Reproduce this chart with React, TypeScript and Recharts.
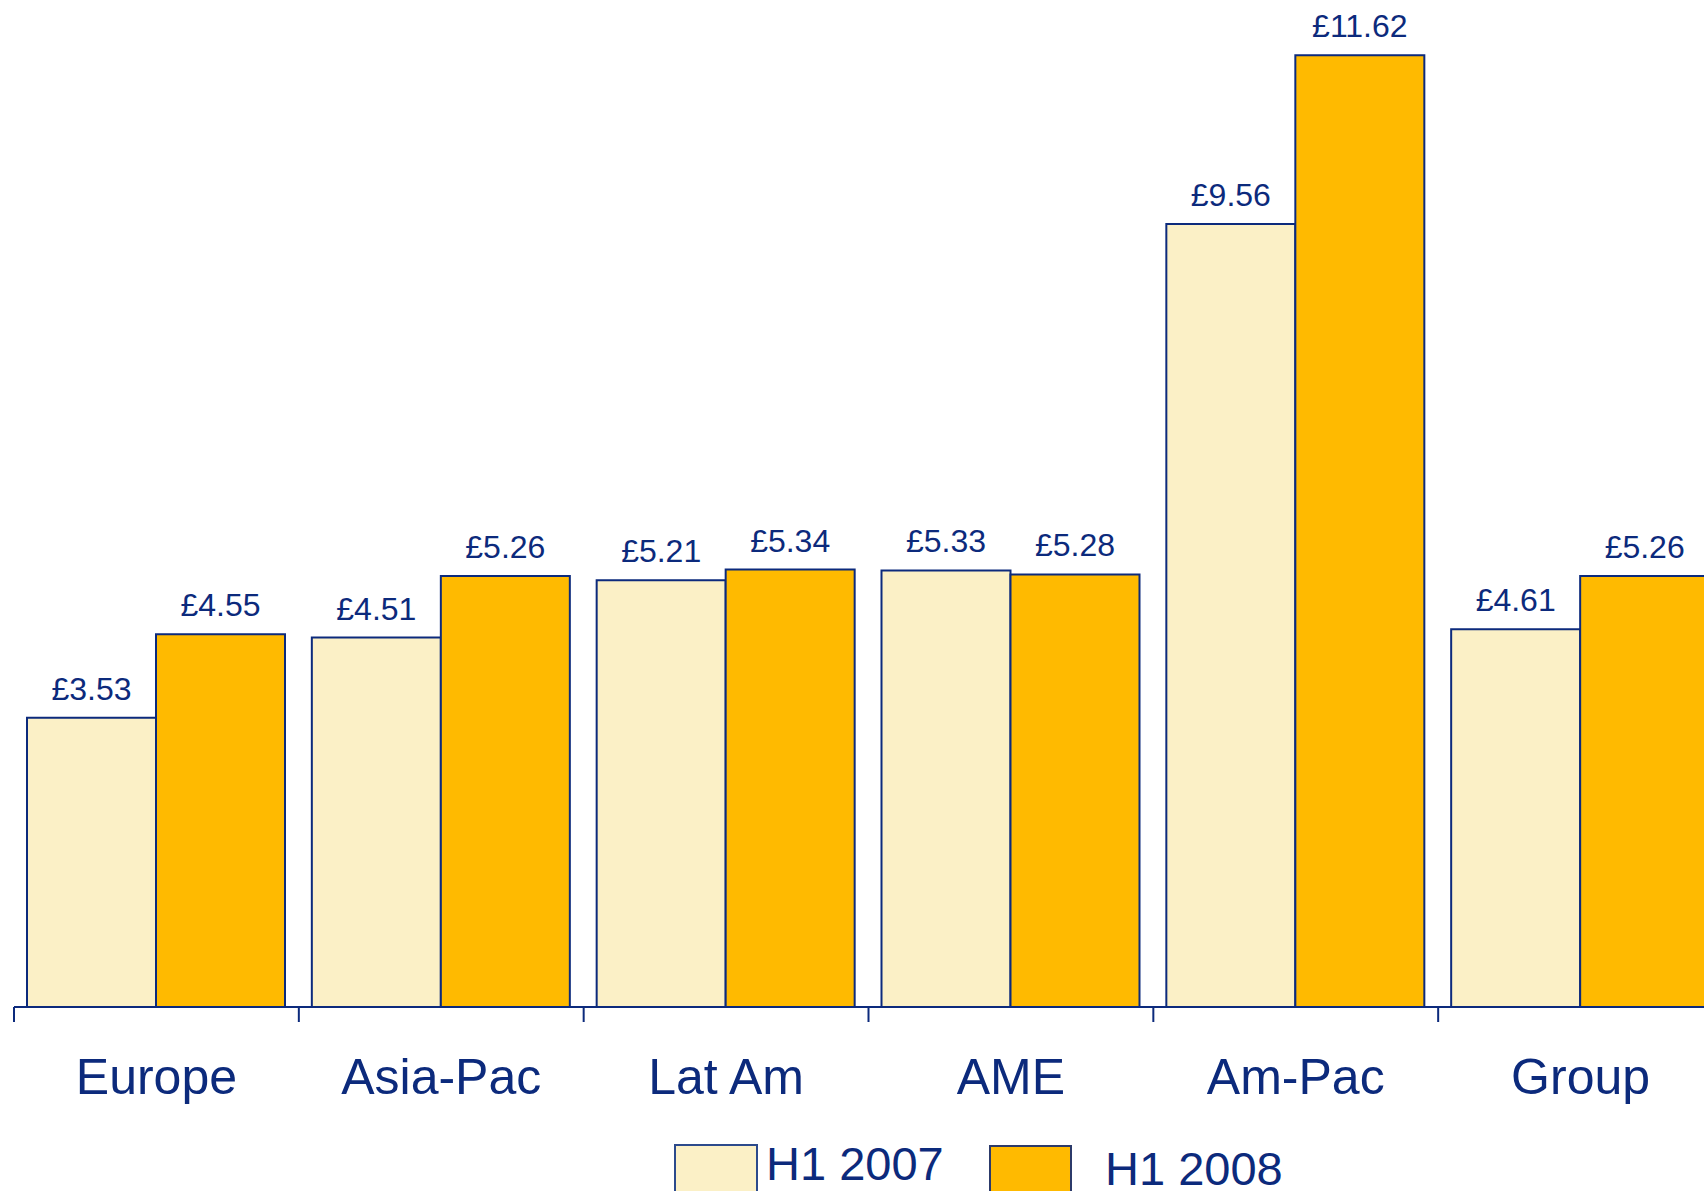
import React from 'react';
import { BarChart, Bar, XAxis, YAxis, LabelList } from 'recharts';

const regions = ['Europe', 'Asia-Pac', 'Lat Am', 'AME', 'Am-Pac', 'Group'];
const h1_2007 = [3.53, 4.51, 5.21, 5.33, 9.56, 4.61];
const h1_2008 = [4.55, 5.26, 5.34, 5.28, 11.62, 5.26];
const seriesNames = ['H1 2007', 'H1 2008'];

const NAVY = '#0c2a7c';
const CREAM = '#fbf0c6';
const GOLD = '#ffba00';
const FONT = '"Liberation Sans", Arial, Helvetica, sans-serif';

const CHART_W = 1723;
const CHART_H = 1191;
const M_TOP = 24;
const M_LEFT = 14;
const AXIS_H = 184;
const PLOT_W = CHART_W - M_LEFT;
const AXIS_Y = CHART_H - AXIS_H;

const data = regions.map((name, i) => ({ name, a: h1_2007[i], b: h1_2008[i] }));

const fmt = (v: any) => `£${Number(v).toFixed(2)}`;

const CategoryTick = (props: any) => {
  const { x, payload } = props;
  const half = PLOT_W / regions.length / 2;
  return (
    <g>
      <line x1={x - half} x2={x - half} y1={AXIS_Y} y2={AXIS_Y + 15} stroke={NAVY} strokeWidth={2} />
      <text x={x} y={AXIS_Y + 87} textAnchor="middle" fontSize={50} fill={NAVY} fontFamily={FONT}>
        {payload.value}
      </text>
    </g>
  );
};

const LegendBox = () => (
  <svg width={1704} height={1191} style={{ position: 'absolute', left: 0, top: 0, pointerEvents: 'none' }}>
    <rect x={675} y={1145} width={82} height={60} fill={CREAM} stroke="#2c4a8c" strokeWidth={2} />
    <text x={766} y={1180} fontSize={47} fill={NAVY} fontFamily={FONT}>{seriesNames[0]}</text>
    <rect x={990} y={1146} width={81} height={60} fill={GOLD} stroke="#2c3a6a" strokeWidth={2} />
    <text x={1105} y={1185} fontSize={47} fill={NAVY} fontFamily={FONT}>{seriesNames[1]}</text>
  </svg>
);

export default function App() {
  return (
    <div style={{ position: 'absolute', left: 0, top: 0, width: 1704, height: 1191, overflow: 'hidden', background: '#fff' }}>
      <BarChart
        width={CHART_W}
        height={CHART_H}
        data={data}
        margin={{ top: M_TOP, right: 0, left: M_LEFT, bottom: 0 }}
        barCategoryGap={13}
        barGap={0}
      >
        <XAxis
          dataKey="name"
          height={AXIS_H}
          axisLine={{ stroke: NAVY, strokeWidth: 2 }}
          tickLine={false}
          tick={<CategoryTick />}
          interval={0}
        />
        <YAxis hide domain={[0, 12]} />
        <Bar dataKey="a" name={seriesNames[0]} fill={CREAM} stroke={NAVY} strokeWidth={2} isAnimationActive={false}>
          <LabelList dataKey="a" position="top" offset={18} formatter={fmt} fill={NAVY} fontSize={32} fontFamily={FONT} />
        </Bar>
        <Bar dataKey="b" name={seriesNames[1]} fill={GOLD} stroke={NAVY} strokeWidth={2} isAnimationActive={false}>
          <LabelList dataKey="b" position="top" offset={18} formatter={fmt} fill={NAVY} fontSize={32} fontFamily={FONT} />
        </Bar>
      </BarChart>
      <LegendBox />
    </div>
  );
}
